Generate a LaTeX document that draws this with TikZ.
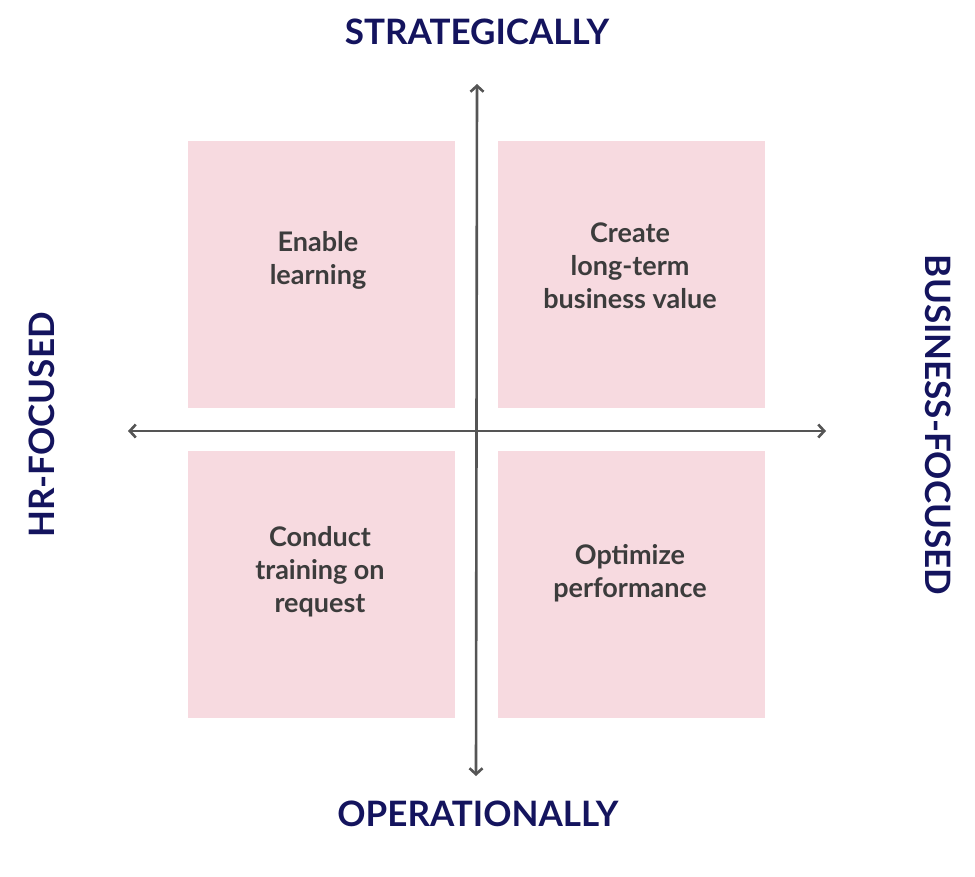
\documentclass[tikz,border=0pt]{standalone}
\usepackage{fontspec}
\setmainfont{Lato}
\usetikzlibrary{arrows.meta}
\definecolor{pinkbox}{HTML}{F7DAE0}
\definecolor{navy}{HTML}{14145E}
\definecolor{axisgray}{HTML}{555555}
\definecolor{txtgray}{HTML}{3C3C3C}
\begin{document}
\begin{tikzpicture}[x=1pt,y=-1pt,
  quad/.style={fill=pinkbox,draw=none},
  qtext/.style={text=txtgray,font=\fontsize{27}{33}\selectfont\bfseries,align=center},
  axlabel/.style={text=navy,font=\fontsize{35}{40}\selectfont\bfseries},
  axis/.style={draw=axisgray,line width=2.6pt,{Straight Barb[length=6pt,width=13pt]}-{Straight Barb[length=6pt,width=13pt]}}]
\useasboundingbox (0,0) rectangle (975,876);
\fill[quad] (188,141) rectangle (455,408);
\fill[quad] (498,141) rectangle (765,408);
\fill[quad] (188,451) rectangle (455,718);
\fill[quad] (498,451) rectangle (765,718);
\coordinate (top) at (477,84);
\coordinate (bot) at (476,776);
\coordinate (lft) at (128,431);
\coordinate (rgt) at (826,431);
\draw[axis] (top) -- (bot);
\draw[axis] (lft) -- (rgt);
\node[qtext] (tl) at (318,260) {Enable\\learning};
\node[qtext] (tr) at (630,266) {Create\\long-term\\business value};
\node[qtext] (bl) at (320,572) {Conduct\\training on\\request};
\node[qtext] (br) at (630,573) {Optimize\\performance};
\node[axlabel] (s) at (477,32) {STRATEGICALLY};
\node[axlabel] (o) at (478,814) {OPERATIONALLY};
\node[axlabel,rotate=90] (h) at (42,425) {HR-FOCUSED};
\node[axlabel,rotate=-90] (b) at (938,425) {BUSINESS-FOCUSED};
\end{tikzpicture}
\end{document}
